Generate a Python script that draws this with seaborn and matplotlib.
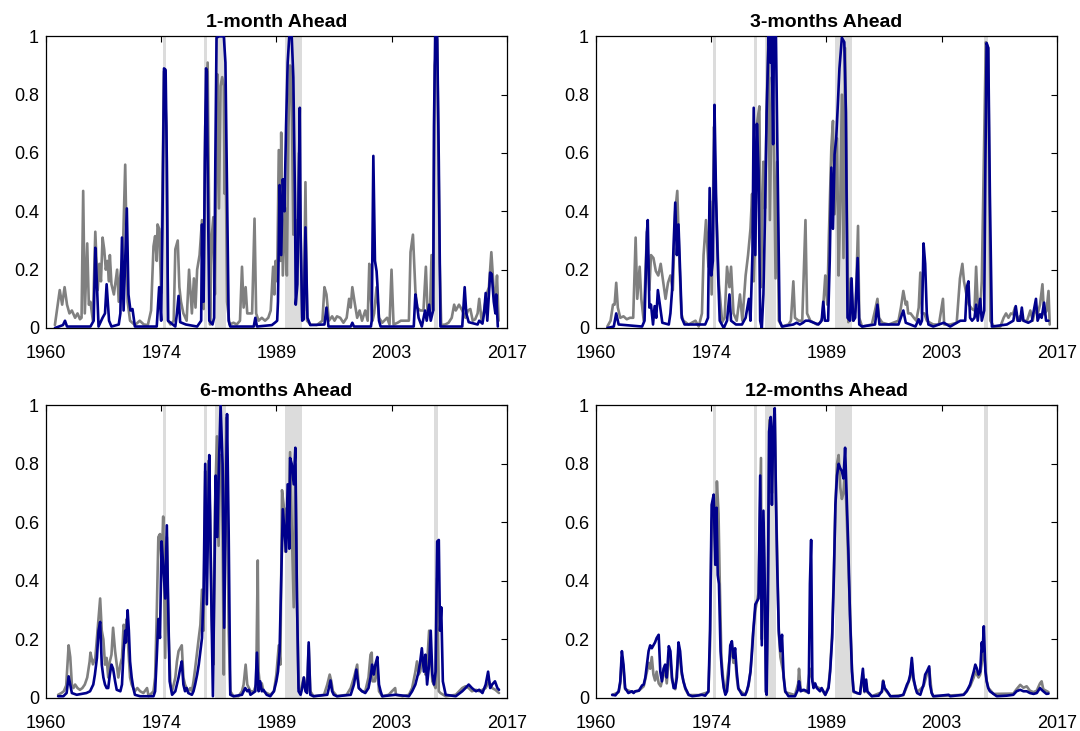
import numpy as np
import pandas as pd
import matplotlib
matplotlib.use("Agg")
import matplotlib.pyplot as plt
import seaborn as sns

titles = ["1-month Ahead", "3-months Ahead", "6-months Ahead", "12-months Ahead"]
xtick_labels = ["1960", "1974", "1989", "2003", "2017"]
ytick_values = [0, 0.2, 0.4, 0.6, 0.8, 1.0]
ytick_labels = ["0", "0.2", "0.4", "0.6", "0.8", "1"]
shade_start = [1974.5, 1979.5, 1980.9, 1989.6, 2008.0]
shade_end = [1974.85, 1979.9, 1982.3, 1991.7, 2008.5]

gray_1m = [(1961.1, .01), (1961.7, .13), (1962.0, .08), (1962.3, .14), (1962.6, .08), (1962.9, .05), (1963.2, .06),
           (1963.6, .035), (1963.9, .05), (1964.2, .03), (1964.4, .035), (1964.6, .47), (1964.8, .05), (1965.1, .29),
           (1965.3, .08), (1965.5, .09), (1965.8, .025), (1966.1, .33), (1966.4, .13), (1966.6, .22), (1966.8, .16),
           (1967.0, .31), (1967.2, .27), (1967.4, .20), (1967.6, .23), (1967.8, .16), (1967.9, .25), (1968.1, .15),
           (1968.4, .115), (1968.8, .20), (1969.0, .09), (1969.2, .18), (1969.5, .25), (1969.8, .56), (1970.1, .09),
           (1970.4, .025), (1971.0, .01), (1971.6, .025), (1972.1, .012), (1972.6, .01), (1973.0, .06), (1973.3, .28),
           (1973.5, .315), (1973.7, .23), (1973.8, .355), (1974.0, .34), (1974.25, .12), (1974.4, .46), (1974.6, .88),
           (1974.9, .69), (1975.1, .025), (1975.4, .012), (1975.8, .025), (1976.0, .27), (1976.3, .30), (1976.5, .14),
           (1976.7, .09), (1977.0, .05), (1977.4, .025), (1977.7, .20), (1978.05, .05), (1978.3, .17), (1978.5, .07),
           (1978.7, .20), (1979.0, .25), (1979.3, .37), (1979.5, .065), (1979.7, .69), (1980.0, .91), (1980.2, .34),
           (1980.3, .012), (1980.5, .31), (1980.7, .38), (1980.9, .115), (1981.1, .69), (1981.2, .87), (1981.4, .41),
           (1981.6, .83), (1981.8, .86), (1982.0, .83), (1982.1, .46), (1982.2, .69), (1982.4, .09), (1982.7, .012),
           (1983.2, .018), (1983.6, .012), (1984.0, .025), (1984.25, .21), (1984.45, .07), (1984.7, .14), (1984.9, .05),
           (1985.2, .05), (1985.5, .05), (1985.8, .375), (1986.0, .05), (1986.3, .025), (1986.7, .035), (1987.1, .025),
           (1987.5, .035), (1987.8, .06), (1988.1, .21), (1988.25, .115), (1988.4, .23), (1988.6, .16), (1988.8, .61),
           (1989.0, .23), (1989.1, .67), (1989.3, .18), (1989.6, .41), (1989.8, .18), (1990.0, .69), (1990.2, .90),
           (1990.4, .80), (1990.6, .32), (1990.9, .37), (1991.1, .275), (1991.3, .60), (1991.5, .32), (1991.7, .035),
           (1991.9, .06), (1992.1, .50), (1992.3, .025), (1992.7, .012), (1993.5, .01), (1994.2, .025), (1994.45, .14),
           (1994.7, .115), (1995.0, .025), (1995.4, .04), (1995.7, .025), (1996.0, .04), (1996.4, .035), (1996.8, .018),
           (1997.2, .035), (1997.5, .10), (1997.7, .07), (1997.9, .14), (1998.2, .085), (1998.5, .035), (1998.8, .06),
           (1999.1, .025), (1999.5, .06), (1999.8, .025), (2000.0, .22), (2000.2, .10), (2000.4, .025), (2000.6, .05),
           (2000.9, .14), (2001.2, .035), (2001.6, .018), (2002.2, .035), (2002.5, .012), (2002.75, .20), (2003.0, .012),
           (2003.5, .018), (2003.9, .025), (2004.5, .025), (2004.9, .025), (2005.1, .26), (2005.4, .32), (2005.7, .13),
           (2005.9, .07), (2006.3, .06), (2006.7, .06), (2007.0, .21), (2007.2, .06), (2007.5, .05), (2007.7, .25),
           (2007.9, .06), (2008.1, .90), (2008.4, .99), (2008.7, .23), (2008.9, .01), (2009.4, .012), (2009.8, .018),
           (2010.2, .035), (2010.5, .08), (2010.7, .06), (2011.1, .08), (2011.5, .06), (2011.9, .035), (2012.2, .06),
           (2012.5, .065), (2012.8, .025), (2013.1, .03), (2013.4, .05), (2013.6, .10), (2013.9, .025), (2014.2, .06),
           (2014.5, .115), (2014.8, .14), (2015.1, .26), (2015.4, .13), (2015.6, .09), (2015.8, .18), (2016.0, .025)]

navy_1m = [(1961.1, 0), (1962.1, .01), (1962.35, .025), (1962.6, .005), (1965.5, .005), (1965.9, .025), (1966.1, .275),
           (1966.3, .15), (1966.5, .005), (1967.0, .035), (1967.3, .05), (1967.5, .15), (1967.8, .025), (1968.1, .005),
           (1969.0, .012), (1969.2, .05), (1969.4, .31), (1969.6, .06), (1969.8, .23), (1970.0, .41), (1970.2, .115),
           (1970.45, .06), (1970.7, .065), (1971.0, .005), (1973.7, .005), (1974.0, .14), (1974.25, .025), (1974.45, .46),
           (1974.6, .89), (1974.8, .885), (1974.95, .57), (1975.1, .025), (1976.0, .005), (1976.2, .05), (1976.4, .11),
           (1976.6, .02), (1977.3, .012), (1978.7, .005), (1979.2, .025), (1979.3, .355), (1979.5, .09), (1979.65, .57),
           (1979.8, .89), (1979.9, .88), (1980.0, .55), (1980.2, .025), (1980.6, .012), (1980.8, .035), (1980.95, .57),
           (1981.1, .995), (1981.4, 1.0), (1981.7, 1.0), (1982.0, 1.0), (1982.2, .91), (1982.4, .46), (1982.6, .025),
           (1982.8, .005), (1985.7, .005), (1985.9, .035), (1986.1, .005), (1987.95, .01), (1988.4, .02), (1988.6, .025),
           (1988.7, .09), (1988.9, .49), (1989.1, .25), (1989.3, .51), (1989.5, .40), (1989.7, .69), (1989.9, .91),
           (1990.1, 1.0), (1990.4, 1.0), (1990.6, .86), (1990.8, .46), (1990.9, .08), (1991.1, .15), (1991.4, .755),
           (1991.5, .34), (1991.7, .025), (1991.9, .03), (1992.1, .345), (1992.35, .035), (1992.7, .01), (1994.45, .012),
           (1994.7, .07), (1994.95, .005), (1997.7, .005), (1997.9, .018), (1998.1, .005), (2000.2, .005), (2000.3, .025),
           (2000.5, .59), (2000.7, .23), (2000.9, .195), (2001.0, .15), (2001.2, .025), (2001.4, .005), (2005.5, .005),
           (2005.7, .115), (2005.9, .08), (2006.1, .035), (2006.5, .005), (2006.9, .06), (2007.1, .025), (2007.4, .08),
           (2007.6, .025), (2007.9, .06), (2008.0, .69), (2008.15, 1.0), (2008.4, 1.0), (2008.6, .57), (2008.8, .005),
           (2011.5, .005), (2011.8, .14), (2012.0, .05), (2012.3, .02), (2013.4, .012), (2013.6, .025), (2014.0, .015),
           (2014.2, .05), (2014.4, .12), (2014.6, .025), (2014.8, .115), (2014.95, .19), (2015.15, .185), (2015.4, .09),
           (2015.6, .05), (2015.7, .115), (2015.9, .005)]

gray_3m = [(1961.4, .005), (1961.8, .025), (1962.1, .08), (1962.3, .08), (1962.5, .155), (1962.7, .07), (1963.0, .035),
           (1963.4, .04), (1963.8, .03), (1964.2, .035), (1964.6, .035), (1964.9, .31), (1965.1, .10), (1965.4, .21),
           (1965.6, .10), (1965.9, .025), (1966.3, .33), (1966.6, .13), (1966.8, .25), (1967.1, .24), (1967.4, .195),
           (1967.7, .18), (1968.0, .22), (1968.3, .16), (1968.6, .10), (1968.9, .155), (1969.2, .18), (1969.5, .13),
           (1969.8, .40), (1970.05, .47), (1970.3, .24), (1970.55, .05), (1970.8, .025), (1971.45, .012), (1972.3, .025),
           (1972.7, .005), (1973.1, .05), (1973.3, .25), (1973.6, .37), (1973.9, .21), (1974.1, .435), (1974.3, .115),
           (1974.6, .69), (1974.8, .46), (1975.2, .15), (1975.6, .02), (1975.9, .035), (1976.2, .21), (1976.5, .14),
           (1976.7, .21), (1977.0, .05), (1977.4, .025), (1977.8, .115), (1978.1, .025), (1978.5, .18), (1978.8, .25),
           (1979.1, .34), (1979.3, .46), (1979.5, .16), (1979.7, .34), (1979.9, .70), (1980.2, .76), (1980.4, .14),
           (1980.7, .57), (1980.9, .41), (1981.1, .74), (1981.3, 1.0), (1981.5, .37), (1981.75, .86), (1981.95, .74),
           (1982.2, .17), (1982.4, .57), (1982.6, .025), (1983.0, .005), (1983.8, .012), (1984.1, .025), (1984.4, .16),
           (1984.6, .035), (1985.05, .025), (1985.5, .025), (1985.9, .37), (1986.1, .05), (1986.5, .025), (1987.3, .012),
           (1987.7, .018), (1988.0, .035), (1988.35, .18), (1988.6, .08), (1988.8, .32), (1989.1, .62), (1989.3, .71),
           (1989.5, .39), (1989.8, .65), (1990.0, .18), (1990.2, .43), (1990.4, .80), (1990.6, .24), (1990.8, .96),
           (1991.0, .46), (1991.2, .02), (1991.5, .17), (1991.85, .025), (1992.1, .07), (1992.4, .35), (1992.55, .035),
           (1992.9, .005), (1994.1, .012), (1994.5, .06), (1994.8, .10), (1995.0, .035), (1995.4, .018), (1996.2, .012),
           (1997.4, .025), (1997.7, .07), (1998.0, .127), (1998.3, .08), (1998.45, .09), (1998.6, .05), (1998.9, .05),
           (1999.3, .035), (1999.6, .025), (1999.9, .07), (2000.1, .19), (2000.3, .05), (2000.6, .05), (2000.9, .025),
           (2001.3, .018), (2001.7, .012), (2002.4, .012), (2002.9, .10), (2003.05, .012), (2003.8, .012), (2004.6, .018),
           (2005.0, .17), (2005.3, .22), (2005.5, .16), (2005.8, .115), (2006.1, .08), (2006.5, .065), (2006.8, .06),
           (2007.0, .21), (2007.2, .08), (2007.5, .06), (2007.7, .16), (2007.95, .57), (2008.2, .98), (2008.5, .96),
           (2008.75, .025), (2009.2, .005), (2010.0, .005), (2010.4, .035), (2010.7, .05), (2011.0, .035), (2011.3, .05),
           (2011.55, .047), (2011.8, .07), (2012.1, .025), (2012.4, .04), (2012.85, .025), (2013.3, .025), (2013.7, .06),
           (2014.0, .025), (2014.3, .065), (2014.6, .047), (2014.9, .08), (2015.2, .15), (2015.4, .047), (2015.7, .058),
           (2015.95, .127), (2016.1, .012)]

navy_3m = [(1961.4, 0), (1962.2, .005), (1962.5, .05), (1962.8, .012), (1965.7, .005), (1966.0, .025), (1966.3, .33),
           (1966.4, .37), (1966.6, .07), (1966.8, .08), (1967.05, .012), (1967.25, .075), (1967.45, .035), (1967.65, .13),
           (1967.95, .07), (1968.2, .018), (1969.0, .012), (1969.2, .05), (1969.4, .127), (1969.6, .29), (1969.8, .43),
           (1970.0, .25), (1970.2, .355), (1970.4, .195), (1970.6, .035), (1970.95, .012), (1973.5, .012), (1973.85, .035),
           (1974.05, .48), (1974.25, .18), (1974.45, .23), (1974.65, .765), (1974.85, .445), (1975.1, .18), (1975.3, .025),
           (1975.8, 0), (1976.2, .025), (1976.5, .115), (1976.7, .025), (1977.3, .012), (1978.05, .012), (1978.5, .035),
           (1978.9, .10), (1979.1, .025), (1979.35, .26), (1979.5, .755), (1979.7, .25), (1979.9, .70), (1980.1, .54),
           (1980.3, .025), (1980.5, 0), (1980.7, .115), (1980.9, .39), (1981.1, .74), (1981.35, 1.0), (1981.55, .91),
           (1981.7, 1.0), (1981.9, .63), (1982.0, 1.0), (1982.25, 1.0), (1982.5, .46), (1982.7, .025), (1983.0, .005),
           (1984.4, .012), (1984.8, .018), (1985.2, .012), (1985.6, .018), (1985.9, .025), (1986.3, .025), (1987.5, .012),
           (1987.9, .025), (1988.1, .09), (1988.3, .025), (1988.7, .025), (1988.9, .23), (1989.1, .55), (1989.3, .34),
           (1989.5, .595), (1989.7, .65), (1989.9, .765), (1990.1, .89), (1990.4, .995), (1990.7, .98), (1990.9, .74),
           (1991.1, .035), (1991.4, .025), (1991.6, .17), (1991.8, .025), (1992.05, .035), (1992.35, .24), (1992.55, .012),
           (1992.9, .005), (1994.5, .012), (1994.8, .08), (1995.05, .012), (1997.4, .012), (1998.0, .06), (1998.3, .018),
           (1998.85, .012), (1999.5, .005), (1999.9, .03), (2000.1, .012), (2000.3, .025), (2000.5, .29), (2000.7, .22),
           (2000.9, .05), (2001.1, .012), (2001.7, .005), (2003.0, .018), (2003.8, .005), (2005.05, .025), (2005.65, .025),
           (2005.85, .14), (2006.05, .16), (2006.25, .035), (2006.5, .025), (2006.8, .035), (2007.0, .08), (2007.2, .025),
           (2007.5, .10), (2007.7, .025), (2008.0, .06), (2008.15, .57), (2008.3, .977), (2008.5, .96), (2008.7, .46),
           (2008.95, .005), (2010.8, .012), (2011.6, .025), (2011.9, .075), (2012.15, .025), (2012.45, .025), (2012.65, .07),
           (2012.85, .025), (2013.45, .018), (2013.9, .025), (2014.4, .10), (2014.6, .025), (2014.9, .047), (2015.1, .035),
           (2015.4, .087), (2015.65, .025), (2015.95, .025)]

gray_6m = [(1961.5, .011), (1961.9, .017), (1962.2, .023), (1962.5, .043), (1962.8, .18), (1963.0, .14), (1963.2, .046),
           (1963.4, .034), (1963.6, .046), (1963.9, .034), (1964.2, .028), (1964.5, .034), (1964.8, .046), (1965.1, .07),
           (1965.4, .125), (1965.5, .155), (1965.8, .115), (1966.1, .137), (1966.3, .205), (1966.5, .27), (1966.7, .34),
           (1966.9, .23), (1967.1, .20), (1967.3, .114), (1967.5, .137), (1967.7, .07), (1967.9, .125), (1968.1, .148),
           (1968.3, .24), (1968.55, .16), (1968.75, .114), (1968.95, .07), (1969.2, .114), (1969.4, .137), (1969.6, .25),
           (1969.8, .23), (1970.0, .27), (1970.2, .16), (1970.4, .07), (1970.6, .046), (1971.0, .023), (1971.3, .034),
           (1971.65, .023), (1972.05, .017), (1972.5, .034), (1972.7, .006), (1973.3, .023), (1973.5, .07), (1973.7, .285),
           (1973.9, .55), (1974.1, .56), (1974.3, .455), (1974.5, .62), (1974.75, .137), (1974.95, .55), (1975.15, .23),
           (1975.4, .046), (1975.6, .023), (1975.8, .046), (1976.0, .07), (1976.2, .125), (1976.4, .16), (1976.6, .17),
           (1976.8, .18), (1977.0, .07), (1977.2, .046), (1977.4, .034), (1977.6, .023), (1977.85, .034), (1978.05, .023),
           (1978.25, .057), (1978.45, .10), (1978.7, .16), (1978.9, .205), (1979.1, .25), (1979.3, .37), (1979.5, .23),
           (1979.7, .775), (1979.9, .55), (1980.1, .81), (1980.3, .63), (1980.5, .285), (1980.7, .114), (1980.9, .65),
           (1981.15, .894), (1981.35, .52), (1981.55, .83), (1981.8, .74), (1982.0, .08), (1982.1, .48), (1982.3, .957),
           (1982.6, .23), (1982.8, .023), (1983.2, .006), (1983.8, .006), (1984.25, .023), (1984.45, .046), (1984.7, .114),
           (1984.9, .046), (1985.3, .023), (1985.7, .023), (1986.0, .046), (1986.2, .47), (1986.3, .09), (1986.5, .034),
           (1986.7, .05), (1986.9, .023), (1987.3, .017), (1987.75, .011), (1988.2, .023), (1988.5, .08), (1988.8, .18),
           (1989.0, .114), (1989.2, .71), (1989.4, .66), (1989.6, .50), (1989.8, .65), (1990.0, .59), (1990.2, .84),
           (1990.4, .59), (1990.65, .31), (1990.85, .80), (1991.05, .34), (1991.25, .034), (1991.5, .023), (1991.7, .046),
           (1991.9, .07), (1992.1, .034), (1992.3, .023), (1992.5, .18), (1992.7, .023), (1993.1, .006), (1994.4, .011),
           (1994.8, .046), (1995.1, .08), (1995.3, .057), (1995.5, .023), (1996.0, .006), (1997.2, .011), (1997.7, .034),
           (1998.1, .07), (1998.5, .114), (1998.7, .034), (1999.1, .023), (1999.5, .023), (1999.9, .07), (2000.15, .148),
           (2000.3, .155), (2000.4, .057), (2000.7, .057), (2000.95, .114), (2001.2, .023), (2001.6, .006), (2002.4, .011),
           (2002.8, .023), (2003.2, .034), (2003.3, .011), (2004.1, .006), (2004.9, .011), (2005.3, .034), (2005.7, .09),
           (2005.9, .125), (2006.1, .08), (2006.3, .09), (2006.5, .125), (2006.75, .137), (2006.95, .08), (2007.15, .114),
           (2007.4, .23), (2007.6, .148), (2007.8, .057), (2008.0, .046), (2008.2, .034), (2008.4, .41), (2008.6, .023),
           (2008.8, .017), (2009.45, .006), (2010.7, .011), (2011.5, .034), (2011.9, .04), (2012.3, .034), (2012.7, .023),
           (2013.2, .028), (2013.6, .023), (2014.0, .028), (2014.4, .034), (2014.8, .057), (2015.2, .034), (2015.6, .028),
           (2016.05, .017)]

navy_6m = [(1961.5, .006), (1962.15, .006), (1962.55, .017), (1962.8, .074), (1963.0, .046), (1963.2, .017), (1963.8, .011),
           (1965.0, .017), (1965.45, .023), (1965.85, .046), (1966.05, .08), (1966.3, .137), (1966.5, .23), (1966.7, .26),
           (1966.9, .114), (1967.1, .07), (1967.3, .046), (1967.5, .034), (1967.7, .034), (1967.9, .08), (1968.1, .114),
           (1968.3, .10), (1968.55, .057), (1968.75, .028), (1969.2, .023), (1969.4, .046), (1969.6, .16), (1969.8, .23),
           (1969.9, .19), (1970.1, .30), (1970.25, .23), (1970.4, .125), (1970.6, .07), (1970.8, .034), (1971.0, .011),
           (1971.65, .006), (1973.3, .006), (1973.5, .023), (1973.7, .137), (1973.9, .27), (1974.1, .205), (1974.3, .535),
           (1974.5, .455), (1974.75, .34), (1974.95, .59), (1975.1, .34), (1975.3, .057), (1975.6, .011), (1976.0, .023),
           (1976.2, .046), (1976.4, .07), (1976.6, .10), (1976.8, .125), (1977.0, .046), (1977.2, .023), (1977.4, .034),
           (1977.6, .017), (1978.05, .011), (1978.25, .023), (1978.45, .046), (1978.7, .08), (1978.9, .114), (1979.1, .16),
           (1979.3, .205), (1979.5, .365), (1979.7, .80), (1979.9, .32), (1980.1, .68), (1980.2, .83), (1980.45, .34),
           (1980.65, .006), (1980.8, .34), (1981.0, .76), (1981.2, .55), (1981.4, .80), (1981.6, 1.0), (1981.85, .80),
           (1982.05, .24), (1982.25, .68), (1982.4, .97), (1982.6, .57), (1982.8, .011), (1983.2, .006), (1984.25, .011),
           (1984.45, .023), (1984.65, .034), (1984.9, .023), (1985.1, .028), (1985.3, .011), (1985.9, .023), (1986.1, .155),
           (1986.3, .023), (1986.5, .057), (1986.7, .023), (1986.9, .028), (1987.3, .011), (1987.75, .006), (1988.2, .023),
           (1988.5, .057), (1988.7, .09), (1988.9, .16), (1989.1, .41), (1989.3, .645), (1989.5, .57), (1989.7, .50),
           (1989.9, .73), (1990.1, .51), (1990.2, .82), (1990.4, .80), (1990.65, .73), (1990.85, .855), (1991.05, .34),
           (1991.25, .023), (1991.5, .011), (1991.7, .034), (1991.9, .07), (1992.1, .023), (1992.3, .017), (1992.5, .19),
           (1992.7, .011), (1993.1, .006), (1994.8, .011), (1995.0, .034), (1995.2, .06), (1995.4, .023), (1995.6, .011),
           (1996.0, .006), (1997.7, .011), (1998.1, .046), (1998.4, .097), (1998.7, .034), (1999.1, .023), (1999.5, .017),
           (1999.9, .034), (2000.15, .07), (2000.35, .114), (2000.55, .08), (2000.75, .114), (2001.0, .14), (2001.2, .046),
           (2001.4, .023), (2001.6, .006), (2003.25, .011), (2004.9, .006), (2005.3, .023), (2005.7, .046), (2006.1, .09),
           (2006.3, .125), (2006.5, .17), (2006.75, .09), (2006.95, .148), (2007.15, .046), (2007.4, .114), (2007.6, .23),
           (2007.8, .08), (2008.0, .046), (2008.2, .09), (2008.4, .535), (2008.6, .54), (2008.75, .23), (2008.9, .31),
           (2009.1, .057), (2009.45, .011), (2010.7, .006), (2011.5, .023), (2011.9, .034), (2012.3, .046), (2012.7, .034),
           (2013.2, .023), (2013.6, .028), (2014.0, .017), (2014.4, .046), (2014.7, .09), (2014.95, .034), (2015.2, .046),
           (2015.55, .057), (2015.85, .034), (2016.05, .028)]

gray_12m = [(1962.0, .01), (1962.8, .02), (1963.0, .05), (1963.2, .14), (1963.4, .10), (1963.6, .03), (1964.5, .02),
            (1965.3, .025), (1965.9, .04), (1966.3, .09), (1966.5, .12), (1966.7, .10), (1966.9, .14), (1967.1, .08),
            (1967.3, .06), (1967.5, .09), (1967.75, .05), (1968.0, .04), (1968.35, .08), (1968.55, .10), (1968.75, .05),
            (1969.0, .14), (1969.2, .13), (1969.4, .06), (1969.8, .03), (1970.2, .16), (1970.4, .13), (1970.6, .08),
            (1970.8, .06), (1971.05, .03), (1971.45, .01), (1972.7, .01), (1973.9, .02), (1974.1, .18), (1974.3, .60),
            (1974.55, .66), (1974.75, .50), (1974.95, .74), (1975.15, .63), (1975.3, .40), (1975.5, .14), (1975.8, .04),
            (1976.0, .015), (1976.4, .11), (1976.6, .15), (1976.8, .16), (1977.0, .12), (1977.2, .14), (1977.4, .07),
            (1977.6, .03), (1978.45, .01), (1978.85, .04), (1979.1, .09), (1979.35, .20), (1979.7, .30), (1980.1, .36),
            (1980.4, .82), (1980.5, .20), (1980.7, .60), (1980.9, .30), (1981.05, .02), (1981.25, .30), (1981.45, .95),
            (1981.6, .92), (1981.75, .70), (1981.9, .88), (1982.1, .97), (1982.25, .70), (1982.4, .50), (1982.6, .22),
            (1982.8, .14), (1983.0, .11), (1983.2, .08), (1983.4, .02), (1984.6, .01), (1985.0, .05), (1985.1, .10),
            (1985.3, .03), (1986.1, .02), (1986.45, .10), (1986.6, .08), (1986.75, .06), (1987.1, .04), (1987.9, .03),
            (1988.35, .01), (1988.75, .04), (1988.95, .10), (1989.2, .22), (1989.4, .42), (1989.6, .65), (1989.8, .80),
            (1990.0, .83), (1990.2, .72), (1990.4, .68), (1990.6, .70), (1990.8, .78), (1991.0, .62), (1991.2, .45),
            (1991.4, .30), (1991.65, .10), (1991.85, .02), (1992.65, .015), (1993.0, .08), (1993.2, .02), (1993.4, .05),
            (1993.55, .02), (1994.1, .006), (1995.35, .02), (1995.5, .06), (1995.7, .03), (1996.4, .006), (1998.0, .01),
            (1998.45, .04), (1998.85, .07), (1999.05, .12), (1999.25, .06), (1999.7, .02), (2000.5, .04), (2000.9, .08),
            (2001.2, .10), (2001.5, .02), (2001.7, .006), (2005.45, .011), (2006.25, .04), (2006.7, .07), (2006.9, .09),
            (2007.3, .07), (2007.5, .08), (2007.7, .12), (2007.95, .17), (2008.15, .10), (2008.3, .06), (2008.5, .035),
            (2009.15, .014), (2011.6, .015), (2012.0, .03), (2012.45, .045), (2012.85, .035), (2013.25, .04),
            (2013.65, .025), (2014.1, .02), (2014.5, .025), (2014.9, .05), (2015.1, .057), (2015.3, .03), (2015.95, .02)]

navy_12m = [(1962.0, .011), (1962.4, .009), (1962.8, .023), (1963.0, .057), (1963.2, .16), (1963.4, .114), (1963.6, .034),
            (1964.0, .017), (1964.45, .023), (1964.65, .017), (1964.85, .023), (1965.3, .025), (1965.5, .034), (1965.7, .043),
            (1965.9, .046), (1966.1, .07), (1966.3, .114), (1966.5, .16), (1966.7, .18), (1966.9, .17), (1967.1, .18),
            (1967.3, .19), (1967.5, .205), (1967.75, .216), (1967.95, .09), (1968.15, .057), (1968.35, .10), (1968.55, .114),
            (1968.75, .07), (1969.0, .177), (1969.2, .16), (1969.4, .07), (1969.6, .034), (1969.8, .034), (1970.0, .07),
            (1970.2, .19), (1970.4, .16), (1970.6, .09), (1970.8, .057), (1971.05, .034), (1971.25, .023), (1971.45, .011),
            (1971.9, .006), (1972.7, .009), (1973.1, .011), (1973.5, .008), (1973.9, .023), (1974.1, .23), (1974.3, .66),
            (1974.55, .695), (1974.75, .455), (1974.9, .65), (1975.05, .42), (1975.2, .39), (1975.4, .16), (1975.6, .08),
            (1975.8, .034), (1976.0, .011), (1976.2, .023), (1976.4, .08), (1976.6, .18), (1976.8, .194), (1977.0, .137),
            (1977.2, .17), (1977.4, .09), (1977.6, .034), (1978.05, .011), (1978.45, .011), (1978.65, .023), (1978.85, .046),
            (1979.1, .09), (1979.3, .16), (1979.45, .23), (1979.7, .32), (1979.9, .33), (1980.1, .34), (1980.3, .76),
            (1980.5, .18), (1980.7, .64), (1980.9, .34), (1981.0, .023), (1981.1, .011), (1981.25, .34), (1981.4, .91),
            (1981.6, .96), (1981.75, .66), (1981.9, .91), (1982.1, .99), (1982.25, .68), (1982.4, .455), (1982.6, .23),
            (1982.8, .16), (1983.0, .216), (1983.2, .07), (1983.4, .023), (1983.8, .006), (1984.6, .006), (1984.97, .028),
            (1985.1, .057), (1985.3, .023), (1985.7, .028), (1986.1, .023), (1986.3, .017), (1986.45, .39), (1986.6, .54),
            (1986.75, .057), (1986.9, .034), (1987.1, .05), (1987.3, .034), (1987.7, .023), (1987.9, .034), (1988.35, .011),
            (1988.75, .034), (1988.95, .09), (1989.2, .205), (1989.4, .40), (1989.6, .66), (1989.8, .76), (1990.0, .80),
            (1990.2, .785), (1990.4, .775), (1990.6, .75), (1990.8, .855), (1991.0, .68), (1991.2, .51), (1991.4, .285),
            (1991.65, .09), (1991.85, .023), (1992.25, .017), (1992.65, .014), (1993.0, .10), (1993.2, .023), (1993.4, .063),
            (1993.55, .023), (1994.1, .006), (1994.95, .008), (1995.35, .023), (1995.5, .057), (1995.7, .034), (1996.0, .023),
            (1996.4, .006), (1997.4, .006), (1998.0, .011), (1998.45, .046), (1998.65, .057), (1998.85, .08), (1999.05, .137),
            (1999.25, .07), (1999.5, .034), (1999.7, .017), (2000.1, .011), (2000.5, .046), (2000.7, .08), (2000.9, .09),
            (2001.2, .108), (2001.3, .046), (2001.5, .017), (2001.7, .006), (2002.55, .008), (2003.6, .011), (2003.8, .006),
            (2005.45, .011), (2005.85, .023), (2006.25, .046), (2006.7, .09), (2006.9, .114), (2007.1, .10), (2007.3, .08),
            (2007.5, .09), (2007.7, .19), (2007.8, .16), (2007.95, .245), (2008.15, .09), (2008.3, .057), (2008.5, .034),
            (2008.7, .023), (2009.15, .014), (2009.55, .006), (2010.8, .008), (2011.6, .011), (2012.0, .023), (2012.45, .028),
            (2012.85, .023), (2013.25, .023), (2013.65, .017), (2014.1, .014), (2014.5, .017), (2014.9, .034), (2015.1, .028),
            (2015.3, .023), (2015.7, .014), (2015.95, .015)]

panel_series = [(gray_1m, navy_1m), (gray_3m, navy_3m), (gray_6m, navy_6m), (gray_12m, navy_12m)]

sns.set_theme(style="white")
plt.rcParams["font.family"] = ["Liberation Sans", "DejaVu Sans"]
plt.rcParams["text.color"] = "black"

GRAY = "#808080"
NAVY = "#00008B"
SHADE = "#DCDCDC"

fig = plt.figure(figsize=(10.8, 7.31), dpi=100)
W, H = 1080, 731
boxes = [(46, 506.7, 36.3, 328), (596, 1057, 36.3, 328), (46, 506.7, 405.3, 698), (596, 1057, 405.3, 698)]
x_lo, x_hi = 1960, 2017

for i, (title, (gs, ns), (l, r, t, b)) in enumerate(zip(titles, panel_series, boxes)):
    ax = fig.add_axes([l / W, 1 - b / H, (r - l) / W, (b - t) / H])
    for s0, s1 in zip(shade_start, shade_end):
        ax.axvspan(s0, s1, color=SHADE, lw=0, zorder=0)
    gdf = pd.DataFrame(gs, columns=["year", "prob"])
    ndf = pd.DataFrame(ns, columns=["year", "prob"])
    sns.lineplot(data=gdf, x="year", y="prob", ax=ax, color=GRAY, linewidth=1.9,
                 estimator=None, sort=False, zorder=2)
    sns.lineplot(data=ndf, x="year", y="prob", ax=ax, color=NAVY, linewidth=1.9,
                 estimator=None, sort=False, zorder=3)
    ax.set_xlim(x_lo, x_hi)
    ax.set_ylim(0, 1)
    ax.set_xticks(np.linspace(x_lo, x_hi, len(xtick_labels)))
    ax.set_xticklabels(xtick_labels)
    ax.set_yticks(ytick_values)
    ax.set_yticklabels(ytick_labels)
    ax.set_xlabel("")
    ax.set_ylabel("")
    ax.set_title(title, fontsize=14, fontweight="bold", pad=6.5, color="black")
    ax.tick_params(direction="in", length=4, width=0.8, top=True, right=True,
                   labelsize=13, colors="black")
    ax.tick_params(axis="x", pad=12)
    ax.tick_params(axis="y", pad=5)
    for sp in ax.spines.values():
        sp.set_color("black")
        sp.set_linewidth(0.9)
    ax.set_facecolor("white")

fig.savefig("out.png", dpi=100, facecolor="white")
